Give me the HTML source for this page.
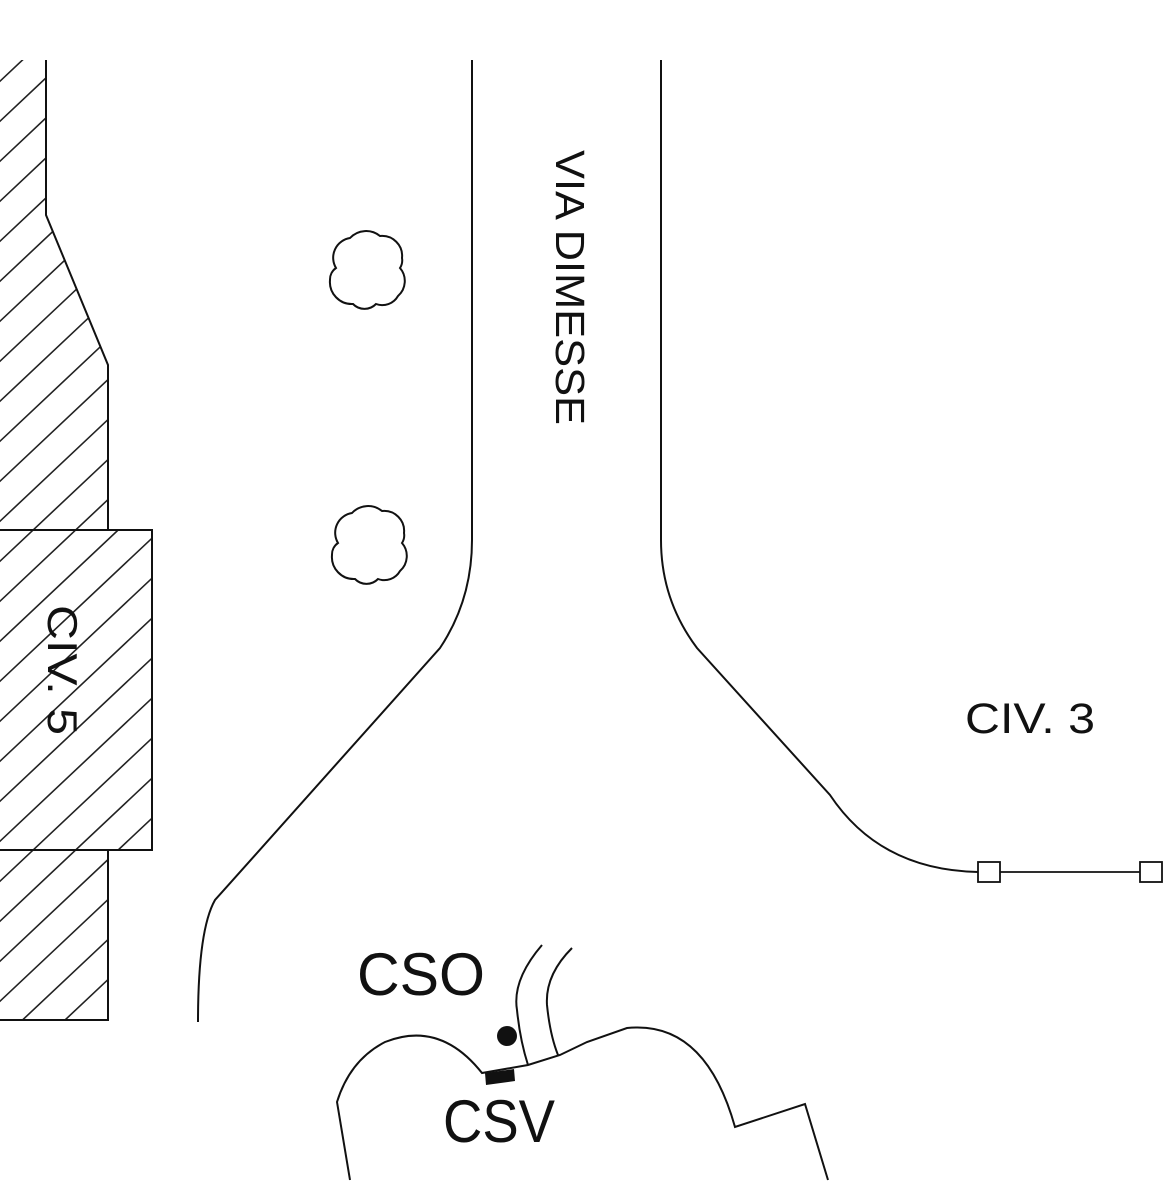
<!DOCTYPE html>
<html><head><style>
html,body{margin:0;padding:0;background:#fff;width:1175px;height:1183px;overflow:hidden;}
svg{display:block}
text{font-family:"Liberation Sans",sans-serif;fill:#111}
</style></head><body>
<svg width="1175" height="1183" viewBox="0 0 1175 1183" xmlns="http://www.w3.org/2000/svg">
<defs>
<clipPath id="hc">
<path d="M0,60 L46,60 L46,215 L108,365 L108,530 L152,530 L152,850 L108,850 L108,1020 L0,1020 Z"/>
</clipPath>
<g id="tree">
<path d="M8,40 A20,20 0 0 1 22,10 A22,22 0 0 1 52,8 A20,20 0 0 1 74,30 A14,14 0 0 1 72,40 A20,20 0 0 1 70,68 A18,18 0 0 1 48,76 A16,16 0 0 1 25,76 A22,22 0 0 1 2,52 A14,14 0 0 1 8,40 Z" fill="none" stroke="#111" stroke-width="2"/>
</g>
</defs>
<g clip-path="url(#hc)" stroke="#222" stroke-width="1.6">
<path d="M-20,100 L200,-107 M-20,140 L200,-67 M-20,180 L200,-27 M-20,220 L200,13 M-20,260 L200,53 M-20,300 L200,93 M-20,340 L200,133 M-20,380 L200,173 M-20,420 L200,213 M-20,460 L200,253 M-20,500 L200,293 M-20,540 L200,333 M-20,580 L200,373 M-20,620 L200,413 M-20,660 L200,453 M-20,700 L200,493 M-20,740 L200,533 M-20,780 L200,573 M-20,820 L200,613 M-20,860 L200,653 M-20,900 L200,693 M-20,940 L200,733 M-20,980 L200,773 M-20,1020 L200,813 M-20,1060 L200,853 M-20,1100 L200,893 M-20,1140 L200,933 M-20,1180 L200,973 M-20,1220 L200,1013 M-20,1260 L200,1053"/>
</g>
<g fill="none" stroke="#111" stroke-width="2">
<path d="M46,60 L46,215 L108,365 L108,530"/>
<path d="M0,530 L152,530 L152,850 L0,850"/>
<path d="M108,850 L108,1020 L0,1020"/>
<path d="M472,60 L472,540 Q472,600 440,648 L215,900 Q198,930 198,1022"/>
<path d="M661,60 L661,540 Q661,600 697,648 L830,795 Q880,870 978,872"/>
<rect x="978" y="862" width="22" height="20" stroke-width="1.8"/>
<line x1="1000" y1="872" x2="1140" y2="872" stroke-width="1.8"/>
<rect x="1140" y="862" width="22" height="20" stroke-width="1.8"/>
<path d="M350,1180 L337,1102 Q350,1060 385,1042 Q440,1020 482,1073 L528,1065 L560,1055 L587,1042 L627,1028 Q705,1020 735,1127 L805,1104 L828,1180"/>
<path d="M542,945 Q512,980 517,1010 Q520,1040 528,1065"/>
<path d="M572,948 Q545,975 547,1005 Q550,1035 558,1055"/>
</g>
<polygon points="485,1073 514,1069 515,1081 486,1085" fill="#111"/>
<circle cx="507" cy="1036" r="10" fill="#111"/>
<use href="#tree" x="328" y="228"/>
<use href="#tree" x="330" y="503"/>
<text transform="translate(556,150) rotate(90)" font-size="41" textLength="275" lengthAdjust="spacingAndGlyphs">VIA DIMESSE</text>
<text transform="translate(48,605) rotate(90)" font-size="42" textLength="130" lengthAdjust="spacingAndGlyphs">CIV. 5</text>
<text x="965" y="733" font-size="43" textLength="130" lengthAdjust="spacingAndGlyphs">CIV. 3</text>
<text x="357" y="995" font-size="60" textLength="128" lengthAdjust="spacingAndGlyphs">CSO</text>
<text x="443" y="1142" font-size="60" textLength="112" lengthAdjust="spacingAndGlyphs">CSV</text>
</svg>
</body></html>
